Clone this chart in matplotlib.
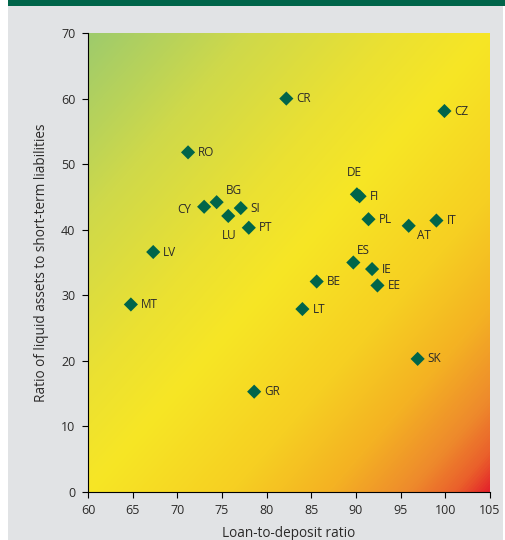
"""Liquidity vs loan-to-deposit ratio scatter, by country."""

import numpy as np
import matplotlib
matplotlib.use("Agg")
import matplotlib.pyplot as plt
from matplotlib.colors import LinearSegmentedColormap
from matplotlib.patches import Rectangle

plt.rcParams["font.family"] = ["Open Sans", "DejaVu Sans"]

countries = ["CR", "CZ", "RO", "BG", "CY", "SI", "LU", "PT", "LV", "MT", "GR",
             "DE", "FI", "PL", "AT", "IT", "ES", "IE", "EE", "BE", "LT", "SK"]
loan_to_deposit = [82.2, 99.9, 71.2, 74.4, 73.0, 77.1, 75.7, 78.0, 67.3, 64.8, 78.6,
                   90.1, 90.4, 91.4, 95.9, 99.0, 89.7, 91.8, 92.4, 85.6, 84.0, 96.9]
liquidity_ratio = [60.0, 58.1, 51.8, 44.2, 43.5, 43.3, 42.1, 40.3, 36.6, 28.6, 15.3,
                   45.4, 45.1, 41.6, 40.6, 41.4, 35.0, 34.0, 31.5, 32.1, 27.9, 20.3]

# label placement: (dx, dy) in pixels and horizontal alignment
label_pos = {"BG": (9, 12, "left"), "CY": (-13, -3, "right"), "LU": (1, -20, "center"),
             "DE": (-3, 22, "center"), "AT": (8, -10, "left"), "ES": (4, 12, "left")}

GREEN = "#00654a"
TEXT = "#2b2a29"


def main():
    fig = plt.figure(figsize=(5.05, 5.4), dpi=100, facecolor="white")
    fig.patches.append(Rectangle((8 / 505, 0), 495 / 505, 1, transform=fig.transFigure,
                                 facecolor="#e1e3e5", edgecolor="none", zorder=-2))
    fig.patches.append(Rectangle((8 / 505, 1 - 6 / 540), 497 / 505, 6 / 540,
                                 transform=fig.transFigure, facecolor=GREEN,
                                 edgecolor="none", zorder=-1))

    ax = fig.add_axes([88 / 505, 48 / 540, 402 / 505, 459 / 540])

    # diagonal green -> yellow -> red background
    cmap = LinearSegmentedColormap.from_list("bg", [
        (0.0, "#9ecb6c"), (0.2, "#cfd94a"), (0.38, "#ebe132"), (0.5, "#f7e625"),
        (0.68, "#f6cf22"), (0.8, "#f4b223"), (0.9, "#ee8a2c"), (0.96, "#ea5f2b"),
        (1.0, "#e3232a")])
    gx, gy = np.meshgrid(np.linspace(0, 1, 400), np.linspace(1, 0, 400))
    t = (gx - gy + 1) / 2
    ax.imshow(cmap(t), extent=(60, 105, 0, 70), aspect="auto", zorder=0,
              interpolation="bilinear")

    ax.scatter(loan_to_deposit, liquidity_ratio, marker="D", s=52, color=GREEN,
               edgecolor="none", zorder=3)
    for name, x, y in zip(countries, loan_to_deposit, liquidity_ratio):
        dx, dy, ha = label_pos.get(name, (10, 0, "left"))
        ax.annotate(name, (x, y), xytext=(dx, dy), textcoords="offset pixels",
                    ha=ha, va="center", fontsize=8.5, color=TEXT, zorder=4)

    ax.set_xlim(60, 105)
    ax.set_ylim(0, 70)
    ax.set_xticks(range(60, 106, 5))
    ax.set_yticks(range(0, 71, 10))
    ax.tick_params(direction="out", length=4, width=0.8, labelsize=9,
                   colors="black", labelcolor=TEXT, pad=5)
    for side in ["top", "right"]:
        ax.spines[side].set_visible(False)
    for side in ["left", "bottom"]:
        ax.spines[side].set_linewidth(0.8)
    ax.set_xlabel("Loan-to-deposit ratio", fontsize=9.8, color=TEXT, labelpad=6)
    ax.set_ylabel("Ratio of liquid assets to short-term liabilities", fontsize=9.8,
                  color=TEXT, labelpad=9)

    fig.savefig("out.png", dpi=100)
    plt.close(fig)


if __name__ == "__main__":
    main()
